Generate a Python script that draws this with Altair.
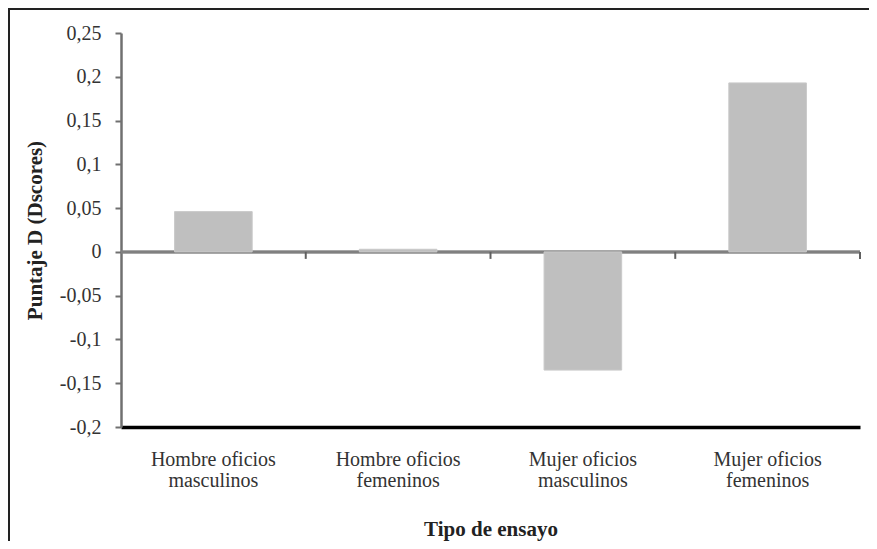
import altair as alt
import pandas as pd

categories = ["Hombre oficios\nmasculinos", "Hombre oficios\nfemeninos",
              "Mujer oficios\nmasculinos", "Mujer oficios\nfemeninos"]
values = [0.046, 0.003, -0.135, 0.193]
y_ticks = [-0.2, -0.15, -0.1, -0.05, 0, 0.05, 0.1, 0.15, 0.2, 0.25]

df = pd.DataFrame({"cat": categories, "val": values})

FONT = "Liberation Serif"

xscale = alt.Scale(paddingInner=0, paddingOuter=0)
yscale = alt.Scale(domain=[-0.2, 0.25], nice=False, zero=False)

x_enc = alt.X("cat:N", sort=categories, scale=xscale,
              title="Tipo de ensayo",
              axis=alt.Axis(labelAngle=0, labelAlign="center", labelBaseline="top",
                            ticks=False, domainColor="#000000",
                            domainWidth=3.5, labelFont=FONT, labelFontSize=20,
                            labelColor="#333333", labelPadding=22,
                            labelLineHeight=21,
                            labelExpr="split(datum.label, '\\n')",
                            titleFont=FONT, titleFontSize=21, titleFontWeight="bold",
                            titleColor="#222222", titlePadding=28))

y_enc = alt.Y("val:Q", scale=yscale, title="Puntaje D (Dscores)",
              axis=alt.Axis(values=y_ticks, grid=False, domainColor="#707070",
                            domainWidth=2.5, tickColor="#707070", tickWidth=2,
                            tickSize=6, labelFont=FONT, labelFontSize=20,
                            labelColor="#333333", labelPadding=14,
                            labelExpr="replace(toString(datum.value), '.', ',')",
                            titleFont=FONT, titleFontSize=21, titleFontWeight="bold",
                            titleColor="#222222", titlePadding=14))

base = alt.Chart(df)

frame = base.mark_rect(fill=None, stroke="#222222", strokeWidth=2).encode(
    x=alt.value(-112), x2=alt.value(900), y=alt.value(-24), y2=alt.value(700)
)

zero = base.mark_rule(color="#808080", strokeWidth=2.5).encode(
    y=alt.datum(0)
)

ticks = base.mark_rule(color="#606060", strokeWidth=2).encode(
    x=alt.X("cat:N", sort=categories, scale=xscale, bandPosition=1),
    y=alt.datum(0), y2=alt.datum(-0.008)
)

bars = base.mark_bar(color="#bfbfbf", stroke="#c9c9c9", strokeWidth=1,
                     width=alt.RelativeBandSize(0.42)).encode(
    x=x_enc, y=y_enc, y2=alt.datum(0)
)

chart = alt.layer(frame, zero, ticks, bars).properties(
    width=739, height=394,
    autosize=alt.AutoSizeParams(type="none"),
    padding={"left": 113, "top": 25, "right": 9, "bottom": 114},
    background="#ffffff"
).configure_view(stroke=None)

chart.save("out.html", embed_options={"renderer": "svg", "actions": False})
